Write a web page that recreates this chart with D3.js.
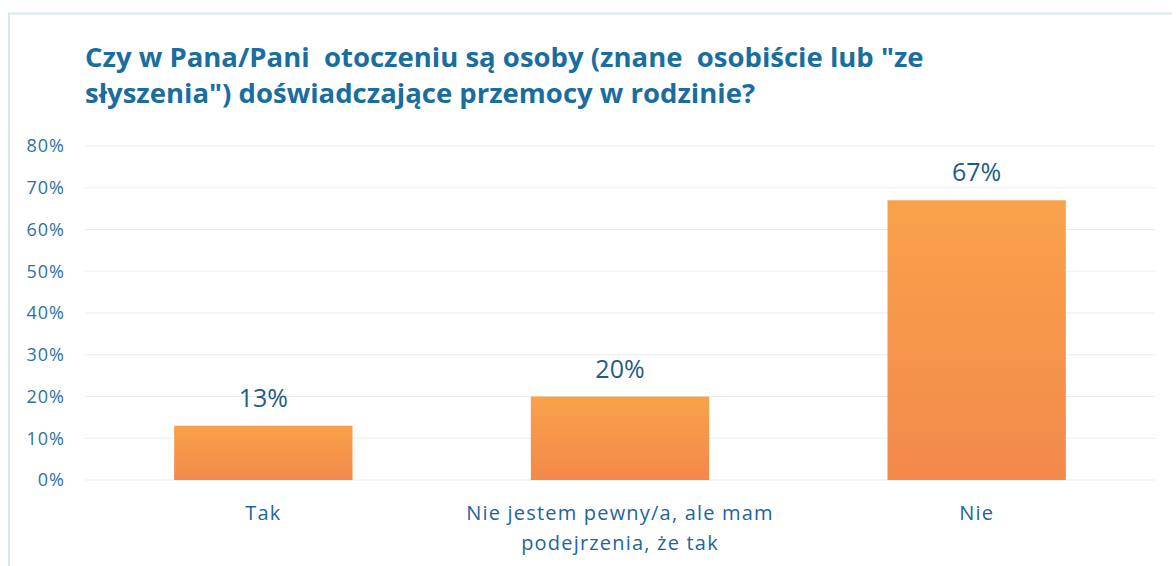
<!DOCTYPE html>
<html>
<head>
<meta charset="utf-8">
<script src="https://cdn.jsdelivr.net/npm/d3@7"></script>
<style>
  body { margin: 0; background: #fff; }
  text { font-family: "Open Sans", sans-serif; white-space: pre; }
</style>
</head>
<body>
<script>
// chart data
var categories = ["Tak", "Nie jestem pewny/a, ale mam|podejrzenia, że tak", "Nie"];
var values = [0.13, 0.20, 0.67];
var valueLabels = ["13%", "20%", "67%"];
var yTicks = [0, 0.1, 0.2, 0.3, 0.4, 0.5, 0.6, 0.7, 0.8];
var titleLines = ["Czy w Pana/Pani  otoczeniu są osoby (znane  osobiście lub \"ze",
                  "słyszenia\") doświadczające przemocy w rodzinie?"];

var svgWidth = 1176;
var svgHeight = 566;

var margin = { top: 146, right: 21, bottom: 86, left: 85 };
var width = svgWidth - margin.left - margin.right;
var height = svgHeight - margin.top - margin.bottom;

var svg = d3.select("body")
  .append("svg")
  .attr("width", svgWidth)
  .attr("height", svgHeight);

// chart frame
svg.append("path")
  .attr("d", "M9,566 V13.5 H1172")
  .attr("fill", "none")
  .attr("stroke", "#d6e9ee")
  .attr("stroke-width", 2);

// bar gradient
var grad = svg.append("defs").append("linearGradient")
  .attr("id", "barGrad")
  .attr("x1", 0).attr("y1", 0).attr("x2", 0).attr("y2", 1);
grad.append("stop").attr("offset", "0%").attr("stop-color", "#f9a24a");
grad.append("stop").attr("offset", "100%").attr("stop-color", "#f2894b");

// title
svg.append("g").selectAll("text")
  .data(titleLines)
  .join("text")
  .attr("x", 85)
  .attr("y", (d, i) => 67 + i * 36)
  .attr("fill", "#1a6d9f")
  .attr("font-size", 27.5)
  .attr("font-weight", "bold")
  .text(d => d);

var chartGroup = svg.append("g")
  .attr("transform", `translate(${margin.left}, ${margin.top})`);

var xScale = d3.scaleBand()
  .domain(categories)
  .range([0, width])
  .paddingInner(0.5)
  .paddingOuter(0.25);

var yScale = d3.scaleLinear()
  .domain([0, 0.8])
  .range([height, 0]);

// gridlines
chartGroup.append("g")
  .selectAll("line")
  .data(yTicks)
  .join("line")
  .attr("x1", 0)
  .attr("x2", width)
  .attr("y1", d => yScale(d))
  .attr("y2", d => yScale(d))
  .attr("stroke", "#e6eef2")
  .attr("stroke-width", 1.2);

// left axis (labels only)
var leftAxis = d3.axisLeft(yScale)
  .tickValues(yTicks)
  .tickFormat(d3.format(".0%"))
  .tickSize(0)
  .tickPadding(20);

var yAxisG = chartGroup.append("g").call(leftAxis);
yAxisG.select(".domain").remove();
yAxisG.selectAll("text")
  .attr("fill", "#2d72a5")
  .attr("font-size", 18)
  .attr("letter-spacing", 1)
  .attr("font-family", "'Open Sans', sans-serif");

// bars
chartGroup.selectAll("rect.bar")
  .data(values)
  .join("rect")
  .attr("class", "bar")
  .attr("x", (d, i) => xScale(categories[i]))
  .attr("y", d => yScale(d))
  .attr("width", xScale.bandwidth())
  .attr("height", d => height - yScale(d))
  .attr("fill", "url(#barGrad)");

// value labels
chartGroup.selectAll("text.val")
  .data(values)
  .join("text")
  .attr("class", "val")
  .attr("x", (d, i) => xScale(categories[i]) + xScale.bandwidth() / 2)
  .attr("y", d => yScale(d) - 19)
  .attr("text-anchor", "middle")
  .attr("fill", "#1f5c88")
  .attr("font-size", 25)
  .text((d, i) => valueLabels[i]);

// bottom axis labels
var bottomAxis = d3.axisBottom(xScale).tickSize(0).tickFormat("");
var xAxisG = chartGroup.append("g")
  .attr("transform", `translate(0, ${height})`)
  .call(bottomAxis);
xAxisG.select(".domain").remove();

xAxisG.selectAll(".tick").each(function(d) {
  var lines = d.split("|");
  var t = d3.select(this).append("text")
    .attr("text-anchor", "middle")
    .attr("fill", "#1f64a0")
    .attr("font-size", 20)
    .attr("letter-spacing", 1.2);
  lines.forEach(function(l, i) {
    t.append("tspan")
      .attr("x", 0)
      .attr("y", 40 + i * 30)
      .text(l);
  });
});
</script>
</body>
</html>
